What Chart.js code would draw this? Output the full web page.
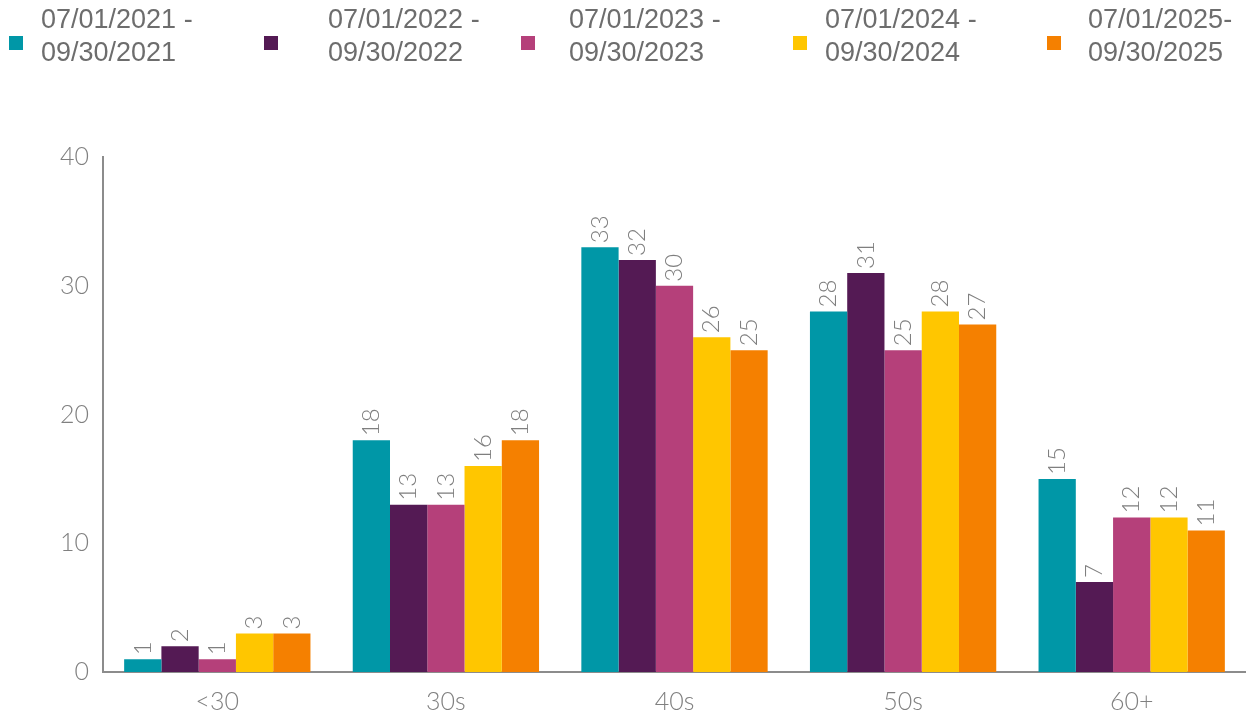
<!DOCTYPE html>
<html>
<head>
<meta charset="utf-8">
<script src="https://cdn.jsdelivr.net/npm/chart.js@4.4.0/dist/chart.umd.min.js"></script>
<style>
  body { margin: 0; background: #fff; }
  #wrap { position: relative; width: 1246px; height: 715px; }
  #legend { position: absolute; left: 0; top: 0; width: 1246px; height: 80px; }
  .item { position: absolute; top: 3px; font-family: "Liberation Sans", Arial, sans-serif; font-size: 27px; line-height: 33px; color: #6d6d6d; white-space: nowrap; }
  .box { position: absolute; width: 14px; height: 14px; top: 36px; }
  canvas { position: absolute; left: 0; top: 0; }
</style>
</head>
<body>
<div id="wrap">
  <canvas id="ageChart" width="1246" height="715"></canvas>
  <div id="legend"></div>
</div>
<script>
const categories = ['<30', '30s', '40s', '50s', '60+'];
const periods = [
  ['07/01/2021 -', '09/30/2021'],
  ['07/01/2022 -', '09/30/2022'],
  ['07/01/2023 -', '09/30/2023'],
  ['07/01/2024 -', '09/30/2024'],
  ['07/01/2025-', '09/30/2025']
];
const q2021 = [1, 18, 33, 28, 15];
const q2022 = [2, 13, 32, 31, 7];
const q2023 = [1, 13, 30, 25, 12];
const q2024 = [3, 16, 26, 28, 12];
const q2025 = [3, 18, 25, 27, 11];
const yTicks = [0, 10, 20, 30, 40];

const colors = ['#0097a7', '#541a54', '#b5407a', '#ffc600', '#f58000'];
const seriesValues = [q2021, q2022, q2023, q2024, q2025];

// legend layout (square x, text x)
const legendBoxX = [9, 264, 521, 793, 1047];
const legendTextX = [41, 328, 569, 825, 1088];

const labelFont = '300 24px Lato, sans-serif';

// draws the values rotated above each bar
const barLabels = {
  id: 'barLabels',
  afterDatasetsDraw(chart) {
    const ctx = chart.ctx;
    ctx.save();
    ctx.font = labelFont;
    ctx.fillStyle = '#7f7f7f';
    ctx.textAlign = 'left';
    ctx.textBaseline = 'middle';
    chart.data.datasets.forEach((ds, i) => {
      chart.getDatasetMeta(i).data.forEach((bar, j) => {
        ctx.save();
        ctx.translate(bar.x, bar.y - 4);
        ctx.rotate(-Math.PI / 2);
        ctx.fillText(String(ds.data[j]), 0, 0);
        ctx.restore();
      });
    });
    ctx.restore();
  }
};

const datasets = seriesValues.map((vals, i) => ({
  label: periods[i].join(' '),
  data: vals,
  backgroundColor: colors[i],
  borderWidth: 0,
  barPercentage: 1.0,
  categoryPercentage: 0.815
}));

const ctx = document.getElementById('ageChart').getContext('2d');
const ageChart = new Chart(ctx, {
  type: 'bar',
  data: { labels: categories, datasets },
  options: {
    responsive: false,
    animation: false,
    layout: { padding: { top: 157, right: 0, left: 0, bottom: 0 } },
    plugins: {
      legend: { display: false },
      tooltip: { enabled: false }
    },
    scales: {
      y: {
        min: 0,
        max: 40,
        afterBuildTicks: (scale) => { scale.ticks = yTicks.map(v => ({ value: v })); },
        afterFit: (scale) => { scale.width = 103; },
        grid: { display: false, drawTicks: false },
        border: { display: true, color: '#8c8c8c', width: 2 },
        ticks: {
          padding: 14,
          color: '#808080',
          font: { family: 'Lato, sans-serif', size: 25, weight: 300 }
        }
      },
      x: {
        afterFit: (scale) => { scale.height = 43; },
        grid: { display: false, drawTicks: false },
        border: { display: true, color: '#8c8c8c', width: 2 },
        ticks: {
          padding: 15,
          color: '#808080',
          font: { family: 'Lato, sans-serif', size: 25, weight: 300 }
        }
      }
    }
  },
  plugins: [barLabels]
});

// html legend built from the periods
const legend = document.getElementById('legend');
periods.forEach((lines, i) => {
  const box = document.createElement('div');
  box.className = 'box';
  box.style.left = legendBoxX[i] + 'px';
  box.style.background = colors[i];
  legend.appendChild(box);
  const item = document.createElement('div');
  item.className = 'item';
  item.style.left = legendTextX[i] + 'px';
  item.innerHTML = lines.join('<br>');
  legend.appendChild(item);
});
</script>
</body>
</html>
